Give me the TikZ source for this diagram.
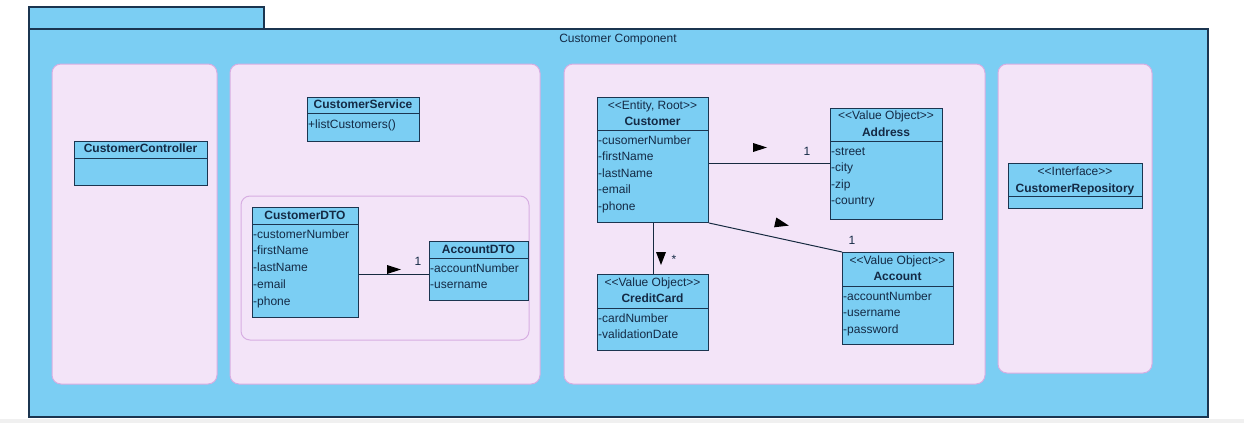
\documentclass[tikz,border=0pt]{standalone}
\usepackage{fontspec}
\setmainfont{Liberation Sans}
\usetikzlibrary{calc}
\definecolor{pkgblue}{HTML}{7BCEF3}
\definecolor{navy}{HTML}{1B3550}
\definecolor{txtc}{HTML}{142A45}
\definecolor{panelfill}{HTML}{F3E4F8}
\definecolor{panelline}{HTML}{D7AEE2}
\newcommand{\stopen}{<\kern0pt<}
\newcommand{\stclose}{>\kern0pt>}
\begin{document}
\begin{tikzpicture}[x=1pt,y=-1pt,
  pkg/.style={fill=pkgblue,draw=navy,line width=1.1pt},
  panel/.style={fill=panelfill,draw=panelline,line width=1pt,rounded corners=9pt},
  cls/.style={fill=pkgblue,draw=navy,line width=1pt,inner sep=0pt,anchor=north west},
  divline/.style={draw=navy,line width=1pt},
  txt/.style={font=\fontsize{12}{14}\selectfont,text=txtc,inner sep=0pt,text height=8.6pt,text depth=2.5pt},
  attr/.style={txt,anchor=west},
  cname/.style={txt,font=\fontsize{12}{14}\selectfont\bfseries},
  stereo/.style={txt,font=\fontsize{12}{14}\selectfont},
  assoc/.style={draw=navy!80!black,line width=1pt},
  tri/.style={fill=black}
]
\useasboundingbox (0,0) rectangle (1244,423);
\fill[white] (0,0) rectangle (1244,423);
\fill[gray!12] (0,419) rectangle (1244,423);
% package
\draw[pkg] (29,7) rectangle (264,29);
\draw[pkg] (29,29) rectangle (1208,417);
\node[txt] (pkgname) at (618,39) {Customer Component};
% panels
\draw[panel] (52,64) rectangle (217,384);
\draw[panel] (230,64) rectangle (540,384);
\draw[panel] (564,64) rectangle (985,384);
\draw[panel] (998,64) rectangle (1152,373);
\draw[panel] (241,196) rectangle (529,340);

% CustomerController
\node[cls,minimum width=133pt,minimum height=44pt] (ctrl) at (74,141) {};
\draw[divline] (74,158) -- (207,158);
\node[cname] (ctrlname) at (140.5,149) {CustomerController};

% CustomerService
\node[cls,minimum width=112pt,minimum height=44pt] (svc) at (307,97) {};
\draw[divline] (307,113) -- (419,113);
\node[cname] (svcname) at (363,105) {CustomerService};
\node[attr] (svcop) at (308,125) {+listCustomers()};

% CustomerDTO
\node[cls,minimum width=106pt,minimum height=110pt] (cdto) at (252,207) {};
\draw[divline] (252,224) -- (358,224);
\node[cname] (cdtoname) at (305,216) {CustomerDTO};
\foreach \t [count=\i from 0] in {-customerNumber,-firstName,-lastName,-email,-phone}
  \node[attr] (cdto-a\i) at (253,235+16.8*\i) {\t};

% AccountDTO
\node[cls,minimum width=99pt,minimum height=59pt] (adto) at (429,241) {};
\draw[divline] (429,258) -- (528,258);
\node[cname] (adtoname) at (478.5,250) {AccountDTO};
\foreach \t [count=\i from 0] in {-accountNumber,-username}
  \node[attr] (adto-a\i) at (430,269+16.8*\i) {\t};

% Customer
\node[cls,minimum width=111pt,minimum height=125pt] (cust) at (597,97) {};
\draw[divline] (597,130) -- (708,130);
\node[stereo] (custst) at (652.5,106) {\stopen Entity, Root\stclose};
\node[cname] (custname) at (652.5,122) {Customer};
\foreach \t [count=\i from 0] in {-cusomerNumber,-firstName,-lastName,-email,-phone}
  \node[attr] (cust-a\i) at (598,141+16.5*\i) {\t};

% Address
\node[cls,minimum width=112pt,minimum height=111pt] (addr) at (830,108) {};
\draw[divline] (830,141) -- (942,141);
\node[stereo] (addrst) at (886,116) {\stopen Value Object\stclose};
\node[cname] (addrname) at (886,133) {Address};
\foreach \t [count=\i from 0] in {-street,-city,-zip,-country}
  \node[attr] (addr-a\i) at (831,152+16.6*\i) {\t};

% Account
\node[cls,minimum width=111pt,minimum height=92pt] (acct) at (842,252) {};
\draw[divline] (842,286) -- (953,286);
\node[stereo] (acctst) at (897.5,261) {\stopen Value Object\stclose};
\node[cname] (acctname) at (897.5,277) {Account};
\foreach \t [count=\i from 0] in {-accountNumber,-username,-password}
  \node[attr] (acct-a\i) at (843,297+16.5*\i) {\t};

% CreditCard
\node[cls,minimum width=111pt,minimum height=76pt] (cc) at (597,274) {};
\draw[divline] (597,308) -- (708,308);
\node[stereo] (ccst) at (652.5,283) {\stopen Value Object\stclose};
\node[cname] (ccname) at (652.5,299) {CreditCard};
\foreach \t [count=\i from 0] in {-cardNumber,-validationDate}
  \node[attr] (cc-a\i) at (598,319+16.8*\i) {\t};

% CustomerRepository
\node[cls,minimum width=134pt,minimum height=45pt] (repo) at (1008,163) {};
\draw[divline] (1008,196) -- (1142,196);
\node[stereo] (repost) at (1075,172) {\stopen Interface\stclose};
\node[cname] (reponame) at (1075,189) {CustomerRepository};

% associations
\coordinate (dtoy) at (0,274.5);
\draw[assoc] (cdto.east |- dtoy) -- (adto.west |- dtoy);
\fill[tri] (387,265) -- (401,269.5) -- (387,274) -- cycle;
\node[txt] (m1) at (418,262) {1};

\coordinate (addry) at (0,163);
\draw[assoc] (cust.east |- addry) -- (addr.west |- addry);
\fill[tri] (753,143) -- (767,147.5) -- (753,152) -- cycle;
\node[txt] (m2) at (807,152) {1};

\draw[assoc] (cust.south east) -- (acct.north west);
\fill[tri] (774.1,227.3) -- (788.8,225.6) -- (776.3,217.5) -- cycle;
\node[txt] (m3) at (852,241) {1};

\draw[assoc] (cust.south) -- (cc.north);
\fill[tri] (656,252) -- (666,252) -- (661,265) -- cycle;
\node[txt] (m4) at (674,260) {*};
\end{tikzpicture}
\end{document}
